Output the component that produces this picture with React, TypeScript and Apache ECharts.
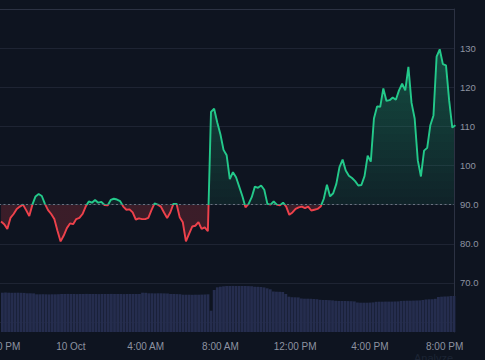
import React, { useEffect, useRef } from 'react';
import * as echarts from 'echarts';

// ---- data (10-minute samples, 9 Oct 20:20 -> 10 Oct 20:30) ----
const START_TIME = new Date(2024, 9, 9, 20, 20).getTime();
const STEP_MS = 10 * 60 * 1000;

const PRICE = [
  85.7, 85.0, 83.8, 86.6, 87.6, 88.9, 89.5, 90.0, 88.6, 87.1,
  90.0, 92.1, 92.7, 92.2, 90.2, 88.6, 87.6, 86.3, 83.3, 80.6,
  82.1, 84.0, 85.2, 85.0, 86.3, 86.6, 87.6, 89.5, 90.8, 90.5,
  91.2, 90.5, 90.7, 89.9, 89.8, 91.2, 91.5, 91.3, 90.9, 89.5,
  88.7, 88.8, 88.0, 86.2, 86.5, 86.3, 86.3, 86.6, 88.6, 90.3,
  90.0, 89.5, 88.0, 86.6, 88.0, 90.2, 90.2, 86.8, 85.5, 80.6,
  82.5, 84.4, 84.6, 85.5, 83.8, 84.2, 83.2, 113.7, 114.5, 111.0,
  108.0, 104.0, 102.6, 96.5, 98.3, 97.0, 94.6, 92.2, 89.3, 90.2,
  91.9, 94.6, 94.3, 94.9, 93.8, 90.2, 90.0, 90.8, 90.0, 89.8,
  90.5, 89.5, 87.4, 88.0, 88.9, 89.3, 89.5, 89.1, 89.5, 88.5,
  88.7, 88.9, 89.5, 91.5, 95.1, 92.1, 92.9, 95.3, 99.6, 101.5,
  98.7, 97.4, 96.8, 96.0, 94.9, 95.0, 97.3, 102.5, 101.0, 112.0,
  115.1, 115.0, 119.7, 116.5, 116.7, 117.4, 116.8, 119.2, 120.9, 119.2,
  125.2, 116.0, 112.0, 101.3, 97.2, 103.8, 104.5, 110.3, 112.8, 127.8,
  129.7, 125.9, 125.6, 116.7, 109.7, 110.3,
];

const VOLUME = [
  39.3, 39.4, 39.3, 39.2, 39.3, 39.3, 39.2, 39.1, 38.7, 38.7,
  38.6, 37.7, 37.7, 37.8, 37.7, 37.6, 37.7, 37.7, 37.8, 38.0,
  38.0, 38.1, 38.0, 38.0, 37.9, 38.0, 38.0, 38.1, 38.0, 38.0,
  38.0, 37.9, 38.0, 38.0, 38.0, 38.1, 38.0, 38.0, 38.0, 37.9,
  38.0, 38.0, 38.0, 38.0, 38.0, 39.3, 39.2, 38.7, 38.7, 38.6,
  38.7, 38.7, 38.6, 38.5, 38.0, 38.0, 37.9, 37.8, 37.3, 37.3,
  37.3, 37.2, 37.3, 37.3, 37.4, 37.5, 37.7, 21.3, 42.0, 44.7,
  45.3, 45.7, 46.0, 46.0, 46.1, 46.0, 46.0, 46.0, 46.0, 45.9,
  45.8, 45.3, 45.2, 45.0, 44.6, 43.7, 42.7, 40.5, 40.3, 40.2,
  40.0, 38.0, 35.3, 34.8, 34.7, 34.6, 33.5, 33.3, 33.3, 33.2,
  33.0, 32.8, 32.2, 32.0, 32.0, 31.8, 31.6, 31.2, 31.0, 31.0,
  31.0, 30.9, 30.8, 30.6, 29.5, 29.3, 29.3, 29.3, 29.4, 29.6,
  30.2, 30.3, 30.3, 30.4, 30.4, 30.4, 30.5, 30.6, 31.1, 31.2,
  31.3, 31.3, 31.4, 31.5, 31.6, 32.0, 32.5, 32.7, 32.8, 33.2,
  35.0, 35.3, 35.5, 35.6, 36.0, 36.0,
];

const Y_TICK_LABELS: Record<number, string> = {
  70: '70.0', 80: '80.0', 90: '90.0', 100: '100', 110: '110', 120: '120', 130: '130',
};
const MONTH_LABEL = 'Oct';
const BASELINE = 90;

// ---- styles ----
const BG = '#0e1420';
const GREEN = '#23c98a';
const RED = '#ee414b';
const GRID_COLOR = '#1e2433';
const BORDER = '#2c3243';
const LABEL = '#8d93a0';
const VOL_COLOR = '#252d4e';
const FONT = '"Liberation Sans", Arial, sans-serif';

const MIDNIGHT = new Date(2024, 9, 10, 0, 0).getTime();
const HOUR = 3600 * 1000;
const AXIS_MIN = MIDNIGHT - Math.round(4.2553 * HOUR);
const AXIS_MAX = MIDNIGHT + Math.round(20.4255 * HOUR);

function timeLabel(v: number): string {
  const d = new Date(v);
  const h = d.getHours();
  if (d.getMinutes() !== 0 || d.getSeconds() !== 0) return '';
  if (h === 0) return `${d.getDate()} ${MONTH_LABEL}`;
  const h12 = h % 12 === 0 ? 12 : h % 12;
  const text = `${h12}:00 ${h < 12 ? 'AM' : 'PM'}`;
  // the first (partly hidden) label sits a little right of its tick
  return v < MIDNIGHT ? `{edge|${text}}` : text;
}

function buildAreaPieces() {
  const pieces: any[] = [{ gt: 0, lte: BASELINE, color: 'rgba(238,65,75,0.2)' }];
  for (let lo = 90; lo < 130; lo += 2) {
    const a = 0.08 + ((lo + 1 - 90) / 40) * 0.24;
    pieces.push({ gt: lo, lte: lo + 2, color: `rgba(35,201,138,${a.toFixed(3)})` });
  }
  pieces.push({ gt: 130, lte: 1000, color: 'rgba(35,201,138,0.33)' });
  return pieces;
}

export default function App() {
  const ref = useRef<HTMLDivElement>(null);

  useEffect(() => {
    if (!ref.current) return;
    const chart = echarts.init(ref.current, null, { renderer: 'svg' });

    const times = PRICE.map((_, i) => START_TIME + i * STEP_MS);
    const priceData = PRICE.map((v, i) => [times[i], v]);
    const volData = VOLUME.map((v, i) => [times[i], v]);

    const option: any = {
      animation: false,
      backgroundColor: BG,
      textStyle: { fontFamily: FONT },
      grid: [
        { left: -10, right: 31, top: 9, bottom: 38, containLabel: false, outerBoundsMode: 'none' },
        { left: -10, right: 31, top: 282, bottom: 28, containLabel: false, outerBoundsMode: 'none' },
      ],
      xAxis: [
        {
          type: 'time', gridIndex: 0, min: AXIS_MIN, max: AXIS_MAX, position: 'top',
          axisLine: { show: true, lineStyle: { color: BORDER } },
          axisTick: { show: false }, axisLabel: { show: false }, splitLine: { show: false },
        },
        {
          type: 'time', gridIndex: 1, min: AXIS_MIN, max: AXIS_MAX,
          minInterval: 4 * HOUR, maxInterval: 4 * HOUR,
          axisLine: { show: false }, axisTick: { show: false }, splitLine: { show: false },
          axisLabel: {
            color: LABEL, fontSize: 10, margin: 9, fontFamily: FONT,
            formatter: (v: number) => timeLabel(v), hideOverlap: false,
            rich: {
              edge: { color: LABEL, fontSize: 10, fontFamily: FONT, padding: [0, 0, 0, 11] },
            },
          },
        },
      ],
      yAxis: [
        {
          type: 'value', gridIndex: 0, position: 'right', min: 60, max: 140, interval: 10,
          axisLine: { show: true, lineStyle: { color: BORDER } },
          axisTick: { show: false },
          splitLine: { show: true, lineStyle: { color: GRID_COLOR, width: 1 } },
          axisLabel: {
            color: LABEL, fontSize: 9.5, margin: 6, fontFamily: FONT,
            formatter: (v: number) => Y_TICK_LABELS[v] ?? '',
          },
        },
        {
          type: 'value', gridIndex: 1, position: 'right', min: 0, max: 50,
          axisLine: { show: true, lineStyle: { color: BORDER } },
          axisTick: { show: false }, axisLabel: { show: false }, splitLine: { show: false },
        },
      ],
      visualMap: [
        {
          show: false, type: 'piecewise', seriesIndex: 0, dimension: 1,
          pieces: buildAreaPieces(),
        },
        {
          show: false, type: 'piecewise', seriesIndex: 1, dimension: 1,
          pieces: [
            { gt: BASELINE, lte: 1000, color: GREEN },
            { gt: 0, lte: BASELINE, color: RED },
          ],
        },
      ],
      series: [
        {
          type: 'line', xAxisIndex: 0, yAxisIndex: 0, data: priceData,
          showSymbol: false, silent: true, lineStyle: { width: 0 },
          areaStyle: { origin: BASELINE, opacity: 1 }, z: 1,
        },
        {
          type: 'line', xAxisIndex: 0, yAxisIndex: 0, data: priceData,
          showSymbol: false, silent: true, lineStyle: { width: 1.9 }, z: 3,
          markLine: {
            silent: true, symbol: ['none', 'none'], label: { show: false },
            lineStyle: { color: '#6b7180', type: [2, 2.5], width: 1 },
            data: [{ yAxis: BASELINE }],
          },
        },
        {
          type: 'bar', xAxisIndex: 1, yAxisIndex: 1, data: volData,
          barWidth: 2.8, silent: true, itemStyle: { color: VOL_COLOR },
        },
      ],
      graphic: [
        {
          type: 'text', left: 414, top: 352,
          style: { text: 'Analyze', fill: '#1c2434', fontSize: 11, fontFamily: FONT },
        },
      ],
    };

    chart.setOption(option);
    return () => chart.dispose();
  }, []);

  return (
    <div
      ref={ref}
      style={{ position: 'fixed', left: 0, top: 0, width: 485, height: 360, background: BG }}
    />
  );
}
